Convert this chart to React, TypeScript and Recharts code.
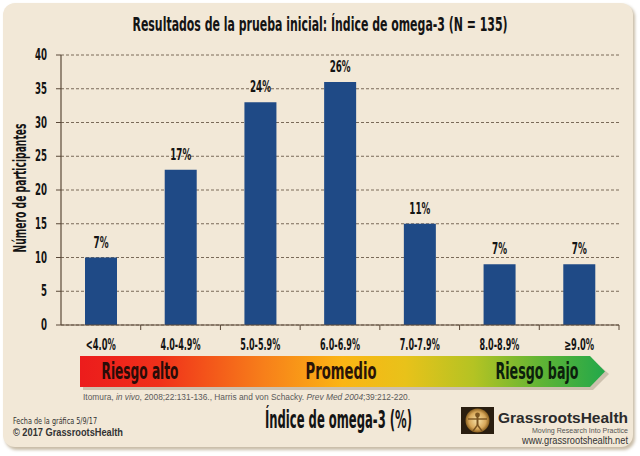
import React from 'react';
import { BarChart, Bar, XAxis, YAxis, CartesianGrid, LabelList } from 'recharts';

const categories = ['<4.0%', '4.0-4.9%', '5.0-5.9%', '6.0-6.9%', '7.0-7.9%', '8.0-8.9%', '≥9.0%'];
const participants = [10, 23, 33, 36, 15, 9, 9];
const percentLabels = ['7%', '17%', '24%', '26%', '11%', '7%', '7%'];
const yTicks = [0, 5, 10, 15, 20, 25, 30, 35, 40];

const titleText = 'Resultados de la prueba inicial: Índice de omega-3 (N = 135)';
const yAxisTitle = 'Número de participantes';
const xAxisTitle = 'Índice de omega-3 (%)';
const riskLabels = ['Riesgo alto', 'Promedio', 'Riesgo bajo'];

const data = categories.map((c, i) => ({ category: c, value: participants[i], pct: percentLabels[i] }));

const W = 640;
const H = 456;
const PLOT_LEFT = 61;
const PLOT_RIGHT = 619;
const BAND = (PLOT_RIGHT - PLOT_LEFT) / categories.length;

const NARROW = '"Liberation Sans Narrow", "DejaVu Sans Condensed", "Roboto Condensed", "Liberation Sans", sans-serif';
const SANS = '"Liberation Sans", Arial, sans-serif';
const INK = '#141414';
const BAR = '#1f4a86';
const GRID = '#7a6a58';
const AXIS = '#5a4838';

const XTick = (props: any) => {
  const { x, y, payload } = props;
  const label: string = payload.value;
  const len = label.length <= 5 ? 30 : 40;
  return (
    <g>
      <line x1={x + BAND / 2} y1={y} x2={x + BAND / 2} y2={y + 5} stroke={AXIS} strokeWidth={1} />
      <text
        x={x}
        y={y + 25}
        textAnchor="middle"
        fontFamily={NARROW}
        fontWeight="bold"
        fontSize={15}
        fill={INK}
        textLength={len}
        lengthAdjust="spacingAndGlyphs"
      >
        {label}
      </text>
    </g>
  );
};

const YTick = (props: any) => {
  const { x, y, payload } = props;
  return (
    <text
      x={x}
      y={y + 5}
      textAnchor="end"
      fontFamily={NARROW}
      fontWeight="bold"
      fontSize={15}
      fill={INK}
      textLength={payload.value < 10 ? 6 : 12}
      lengthAdjust="spacingAndGlyphs"
    >
      {payload.value}
    </text>
  );
};

const PctLabel = (props: any) => {
  const { x, y, width, value } = props;
  const len = String(value).length <= 2 ? 15 : 21;
  return (
    <text
      x={x + width / 2}
      y={y - 10}
      textAnchor="middle"
      fontFamily={NARROW}
      fontWeight="bold"
      fontSize={16}
      fill={INK}
      textLength={len}
      lengthAdjust="spacingAndGlyphs"
    >
      {value}
    </text>
  );
};

const Background = () => (
  <svg width={W} height={H} style={{ position: 'absolute', left: 0, top: 0 }}>
    <defs>
      <linearGradient id="riskGrad" x1="0" y1="0" x2="1" y2="0">
        <stop offset="0%" stopColor="#ec1c1c" />
        <stop offset="15%" stopColor="#f0301a" />
        <stop offset="35%" stopColor="#f77f1a" />
        <stop offset="50%" stopColor="#fbb514" />
        <stop offset="62%" stopColor="#e8c21a" />
        <stop offset="75%" stopColor="#b4c323" />
        <stop offset="88%" stopColor="#5fb435" />
        <stop offset="100%" stopColor="#22a84a" />
      </linearGradient>
      <radialGradient id="logoGrad" cx="50%" cy="50%" r="50%">
        <stop offset="0%" stopColor="#f7e2a8" />
        <stop offset="70%" stopColor="#d8a85a" />
        <stop offset="100%" stopColor="#8a6020" />
      </radialGradient>
      <filter id="frameShadow" x="-5%" y="-5%" width="110%" height="110%">
        <feGaussianBlur stdDeviation="1.5" />
      </filter>
    </defs>
    <rect x={0} y={0} width={W} height={H} fill="#ffffff" />
    <rect x={5} y={5} width={630} height={445} rx={12} fill="#c9bda8" filter="url(#frameShadow)" />
    <rect x={3} y={3} width={630} height={444} rx={12} fill="#f2e8d7" />

    <text
      x={320}
      y={31}
      textAnchor="middle"
      fontFamily={NARROW}
      fontWeight="bold"
      fontSize={20}
      fill={INK}
      textLength={375}
      lengthAdjust="spacingAndGlyphs"
    >
      {titleText}
    </text>

    <text
      transform="translate(26, 188) rotate(-90)"
      textAnchor="middle"
      fontFamily={NARROW}
      fontWeight="bold"
      fontSize={17}
      fill={INK}
      textLength={129}
      lengthAdjust="spacingAndGlyphs"
    >
      {yAxisTitle}
    </text>

    {/* risk arrow */}
    <polygon points="83,360 593,360 609,374 593,390 83,390" fill="#a89a86" opacity={0.5} />
    <polygon points="80,356 590,356 605,371.5 590,387 80,387" fill="url(#riskGrad)" />
    <text x={140} y={379} textAnchor="middle" fontFamily={NARROW} fontWeight="bold" fontSize={23} fill="#2a0c08" textLength={77} lengthAdjust="spacingAndGlyphs">{riskLabels[0]}</text>
    <text x={341} y={379} textAnchor="middle" fontFamily={NARROW} fontWeight="bold" fontSize={23} fill="#2a1408" textLength={71} lengthAdjust="spacingAndGlyphs">{riskLabels[1]}</text>
    <text x={537} y={379} textAnchor="middle" fontFamily={NARROW} fontWeight="bold" fontSize={23} fill="#0c200c" textLength={83} lengthAdjust="spacingAndGlyphs">{riskLabels[2]}</text>

    <text x={83} y={400} fontFamily={SANS} fontSize={8.5} fill="#5a5a5a" textLength={327} lengthAdjust="spacingAndGlyphs">
      Itomura, <tspan fontStyle="italic">in vivo</tspan>, 2008;22:131-136., Harris and von Schacky. <tspan fontStyle="italic">Prev Med 2004</tspan>;39:212-220.
    </text>

    <text x={265} y={428} fontFamily={NARROW} fontWeight="bold" fontSize={24} fill={INK} textLength={147} lengthAdjust="spacingAndGlyphs">{xAxisTitle}</text>

    <text x={13} y={424} fontFamily={NARROW} fontSize={8.5} fill="#333" textLength={84} lengthAdjust="spacingAndGlyphs">Fecha de la gráfica 5/9/17</text>
    <text x={13} y={436} fontFamily={SANS} fontWeight="bold" fontSize={10} fill="#333" textLength={110} lengthAdjust="spacingAndGlyphs">© 2017 GrassrootsHealth</text>

    {/* logo */}
    <rect x={461} y={407} width={33} height={27} fill="#2a1e10" />
    <circle cx={477.5} cy={420.5} r={12} fill="url(#logoGrad)" />
    <circle cx={477.5} cy={415} r={2.4} fill="#7a5420" />
    <line x1={468} y1={419} x2={487} y2={419} stroke="#7a5420" strokeWidth={1.4} />
    <line x1={477.5} y1={417} x2={477.5} y2={425} stroke="#7a5420" strokeWidth={2} />
    <line x1={477.5} y1={425} x2={473} y2={431} stroke="#7a5420" strokeWidth={1.4} />
    <line x1={477.5} y1={425} x2={482} y2={431} stroke="#7a5420" strokeWidth={1.4} />
    <text x={628} y={423} textAnchor="end" fontFamily={SANS} fontWeight="bold" fontSize={15} fill="#2b2b2b" textLength={130} lengthAdjust="spacingAndGlyphs">GrassrootsHealth</text>
    <text x={628} y={433} textAnchor="end" fontFamily={SANS} fontSize={7.5} fill="#555" textLength={96} lengthAdjust="spacingAndGlyphs">Moving Research Into Practice</text>
    <text x={628} y={444} textAnchor="end" fontFamily={SANS} fontSize={10} fill="#333" textLength={106} lengthAdjust="spacingAndGlyphs">www.grassrootshealth.net</text>
  </svg>
);

export default function App() {
  return (
    <div style={{ position: 'absolute', left: 0, top: 0, width: W, height: H }}>
      <Background />
      <div style={{ position: 'absolute', left: 0, top: 0 }}>
        <BarChart
          width={W}
          height={H}
          data={data}
          margin={{ top: 55, right: W - PLOT_RIGHT, left: 13, bottom: 101 }}
          barCategoryGap={0}
        >
          <CartesianGrid vertical={false} stroke={GRID} strokeDasharray="3 2" />
          <XAxis
            dataKey="category"
            height={30}
            tickLine={false}
            tickSize={0}
            tickMargin={0}
            axisLine={{ stroke: AXIS, strokeWidth: 1.2 }}
            tick={<XTick />}
            interval={0}
          />
          <YAxis
            width={48}
            domain={[0, 40]}
            ticks={yTicks}
            tickSize={5}
            tickMargin={9}
            axisLine={{ stroke: AXIS, strokeWidth: 1.2 }}
            tickLine={{ stroke: AXIS }}
            tick={<YTick />}
            interval={0}
          />
          <Bar dataKey="value" fill={BAR} barSize={32} isAnimationActive={false}>
            <LabelList dataKey="pct" content={<PctLabel />} />
          </Bar>
        </BarChart>
      </div>
    </div>
  );
}
